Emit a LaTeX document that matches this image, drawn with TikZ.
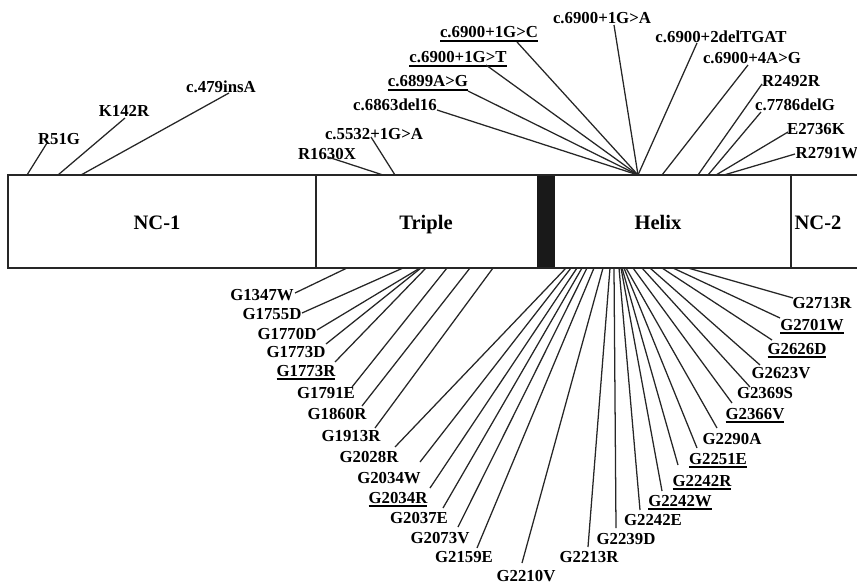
\documentclass[tikz,border=0pt]{standalone}
\usepackage{fontspec}
\setmainfont{Liberation Serif}
\newcommand\ulx[1]{{\setbox0\hbox{#1}\rlap{\rule[-3pt]{\wd0}{1.2pt}}\box0}}
\newcommand\mutlab[5]{%
  \node[lab] (#1) at (#2) {#3};
  \coordinate (#1-a) at (#4);
  \coordinate (#1-b) at (#5);
  \draw[con] (#1-a) -- (#1-b);
}
\tikzset{
  lab/.style={anchor=base, inner sep=0pt, font=\bfseries\fontsize{12.6}{14}\selectfont},
  con/.style={line width=0.95pt, black!85},
  dom/.style={anchor=base, inner sep=0pt, font=\bfseries\fontsize{15.4}{17}\selectfont},
  barline/.style={line width=1.6pt, black!85}
}
\begin{document}
\begin{tikzpicture}[x=0.75pt,y=-0.75pt]
\useasboundingbox (0,0) rectangle (857,585);
\clip (0,0) rectangle (857,585);
% bar
\coordinate (barTL) at (8,175);
\coordinate (barBR) at (880,268);
\fill[black!90] (537,175) rectangle (555,268);
\draw[barline] (barTL) rectangle (barBR);
\draw[line width=1.2pt, black!85] (316,175) -- (316,268);
\draw[line width=1.2pt, black!85] (791,175) -- (791,268);
\node[dom] (nc1) at (157,229) {NC-1};
\node[dom] (tri) at (426,229) {Triple};
\node[dom] (hel) at (658,229) {Helix};
\node[dom] (nc2) at (818,229) {NC-2};
% top labels
\mutlab{t1}{59,144}{R51G}{47,143}{27,175}
\mutlab{t2}{124,117}{K142R}{125,118}{58,175}
\mutlab{t3}{221,93}{c.479insA}{229,93}{81,175}
\mutlab{t4}{327,159}{R1630X}{328,157}{383,175}
\mutlab{t5}{374,139}{c.5532+1G>A}{371,137}{395,175}
\mutlab{t6}{395,111}{c.6863del16}{437,110}{638,175}
\mutlab{t7}{428,87}{\ulx{c.6899A>G}}{468,91}{638,175}
\mutlab{t8}{458,63}{\ulx{c.6900+1G>T}}{486,65}{638,175}
\mutlab{t9}{489,38}{\ulx{c.6900+1G>C}}{517,42}{638,175}
\mutlab{t10}{602,24}{c.6900+1G>A}{614,25}{638,175}
\mutlab{t11}{721,43}{c.6900+2delTGAT}{697,43}{638,175}
\mutlab{t12}{752,64}{c.6900+4A>G}{748,65}{662,175}
\mutlab{t13}{791,87}{R2492R}{762,84}{698,175}
\mutlab{t14}{795,111}{c.7786delG}{761,112}{708,175}
\mutlab{t15}{816,134}{E2736K}{788,132}{716,175}
\mutlab{t16}{827,158}{R2791W}{795,154}{724,175}
% bottom labels
\mutlab{b1}{262,300}{G1347W}{295,293}{347,268}
\mutlab{b2}{272,319}{G1755D}{302,313}{403,268}
\mutlab{b3}{287,339}{G1770D}{317,330}{420,268}
\mutlab{b4}{296,357}{G1773D}{326,344}{421,268}
\mutlab{b5}{306,376}{\ulx{G1773R}}{335,362}{426,268}
\mutlab{b6}{326,398}{G1791E}{352,387}{447,268}
\mutlab{b7}{337,419}{G1860R}{362,406}{470,268}
\mutlab{b8}{351,441}{G1913R}{375,428}{493,268}
\mutlab{b9}{369,462}{G2028R}{395,447}{566,268}
\mutlab{b10}{389,483}{G2034W}{420,462}{571,268}
\mutlab{b11}{398,503}{\ulx{G2034R}}{430,488}{577,268}
\mutlab{b12}{419,523}{G2037E}{443,508}{582,268}
\mutlab{b13}{440,543}{G2073V}{458,527}{587,268}
\mutlab{b14}{464,562}{G2159E}{477,548}{594,268}
\mutlab{b15}{526,581}{G2210V}{522,563}{603,268}
\mutlab{b16}{589,562}{G2213R}{588,547}{610,268}
\mutlab{b17}{626,544}{G2239D}{616,528}{614,268}
\mutlab{b18}{653,525}{G2242E}{640,510}{619,268}
\mutlab{b19}{680,506}{\ulx{G2242W}}{662,491}{621,268}
\mutlab{b20}{702,486}{\ulx{G2242R}}{678,465}{622,268}
\mutlab{b21}{718,464}{\ulx{G2251E}}{697,448}{624,268}
\mutlab{b22}{732,444}{G2290A}{717,428}{626,268}
\mutlab{b23}{755,419}{\ulx{G2366V}}{732,403}{633,268}
\mutlab{b24}{765,398}{G2369S}{750,387}{642,268}
\mutlab{b25}{781,378}{G2623V}{760,365}{650,268}
\mutlab{b26}{797,354}{\ulx{G2626D}}{772,340}{662,268}
\mutlab{b27}{812,330}{\ulx{G2701W}}{780,318}{673,268}
\mutlab{b28}{822,308}{G2713R}{793,298}{688,268}
\end{tikzpicture}
\end{document}
